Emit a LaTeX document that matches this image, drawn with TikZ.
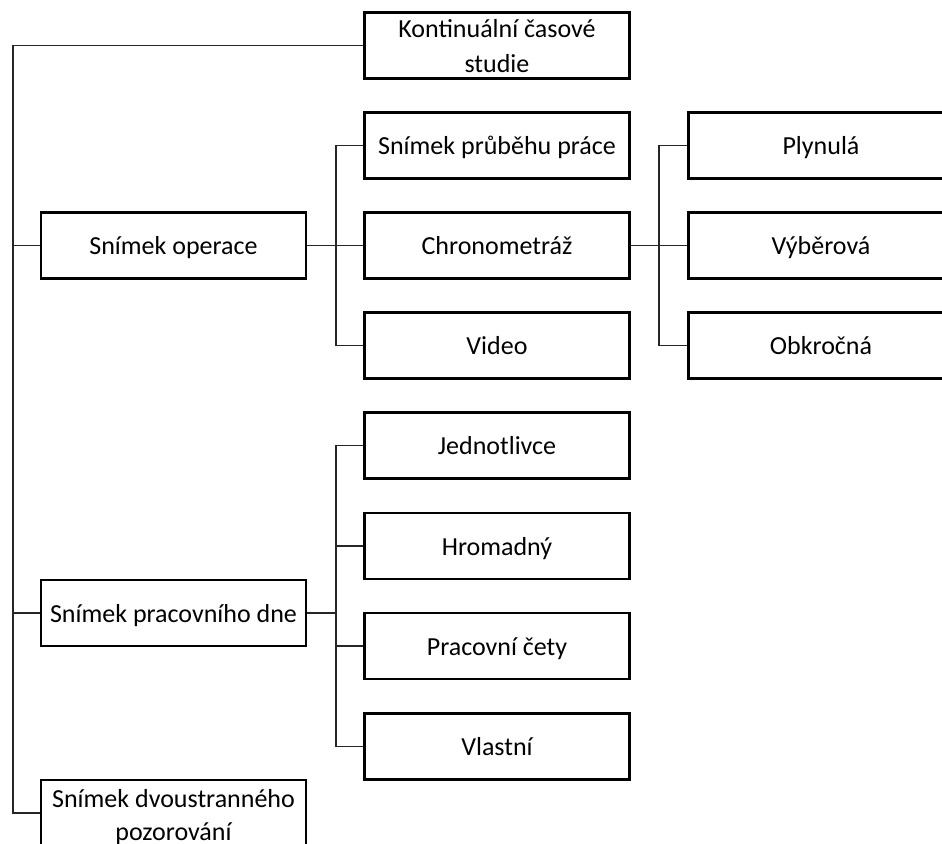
\documentclass[tikz,border=0pt]{standalone}
\usepackage{fontspec}
\setmainfont{Carlito}
\begin{document}
\begin{tikzpicture}[x=1pt,y=-1pt,
  box/.style={draw=black, line width=2.6pt, rectangle, inner sep=0pt,
    minimum width=265pt, minimum height=66pt,
    text height=21pt, text depth=3pt,
    font=\fontsize{26}{34}\selectfont, text=black},
  txt/.style={inner sep=0pt, anchor=base, font=\fontsize{26}{34}\selectfont, text=black},
  conn/.style={draw=black!85, line width=1.4pt}]
\useasboundingbox (0,0) rectangle (942,843);
\clip (0,0) rectangle (942,843);
\fill[white] (0,0) rectangle (942,843);
% level 1
\node[box] (K) at (497,45.5) {};
\node[txt] (K1) at (497,38) {Kontinuální časové};
\node[txt] (K2) at (497,72) {studie};
\node[box] (SO) at (173.5,245.5) {Snímek operace};
\node[box] (SPD) at (173.5,613) {Snímek pracovního dne};
\node[box] (SD) at (173.5,813) {};
\node[txt] (SD1) at (173.5,807) {Snímek dvoustranného};
\node[txt] (SD2) at (173.5,840) {pozorování};
% level 2
\node[box] (SP) at (497,145.5) {Snímek průběhu práce};
\node[box] (CH) at (497,245.5) {Chronometráž};
\node[box] (V) at (497,345.5) {Video};
\node[box] (J) at (497,445.5) {Jednotlivce};
\node[box] (H) at (497,546) {Hromadný};
\node[box] (PC) at (497,646) {Pracovní čety};
\node[box] (VL) at (497,746.5) {Vlastní};
% level 3
\node[box] (PL) at (821,145.5) {Plynulá};
\node[box] (VY) at (821,245.5) {Výběrová};
\node[box] (OB) at (821,345.5) {Obkročná};
% trunks
\coordinate (L) at (13,0);
\coordinate (M) at (336,0);
\coordinate (R) at (659,0);
\draw[conn] (K.west) -- (K.west -| L) |- (SD.west);
\draw[conn] (SO.west) -- (SO.west -| L);
\draw[conn] (SPD.west) -- (SPD.west -| L);
\draw[conn] (SO.east) -- (CH.west);
\draw[conn] (SP.west) -- (SP.west -| M) |- (V.west);
\draw[conn] (CH.east) -- (VY.west);
\draw[conn] (PL.west) -- (PL.west -| R) |- (OB.west);
\draw[conn] (SPD.east) -- (SPD.east -| M);
\draw[conn] (J.west) -- (J.west -| M) |- (VL.west);
\draw[conn] (H.west) -- (H.west -| M);
\draw[conn] (PC.west) -- (PC.west -| M);
\end{tikzpicture}
\end{document}
